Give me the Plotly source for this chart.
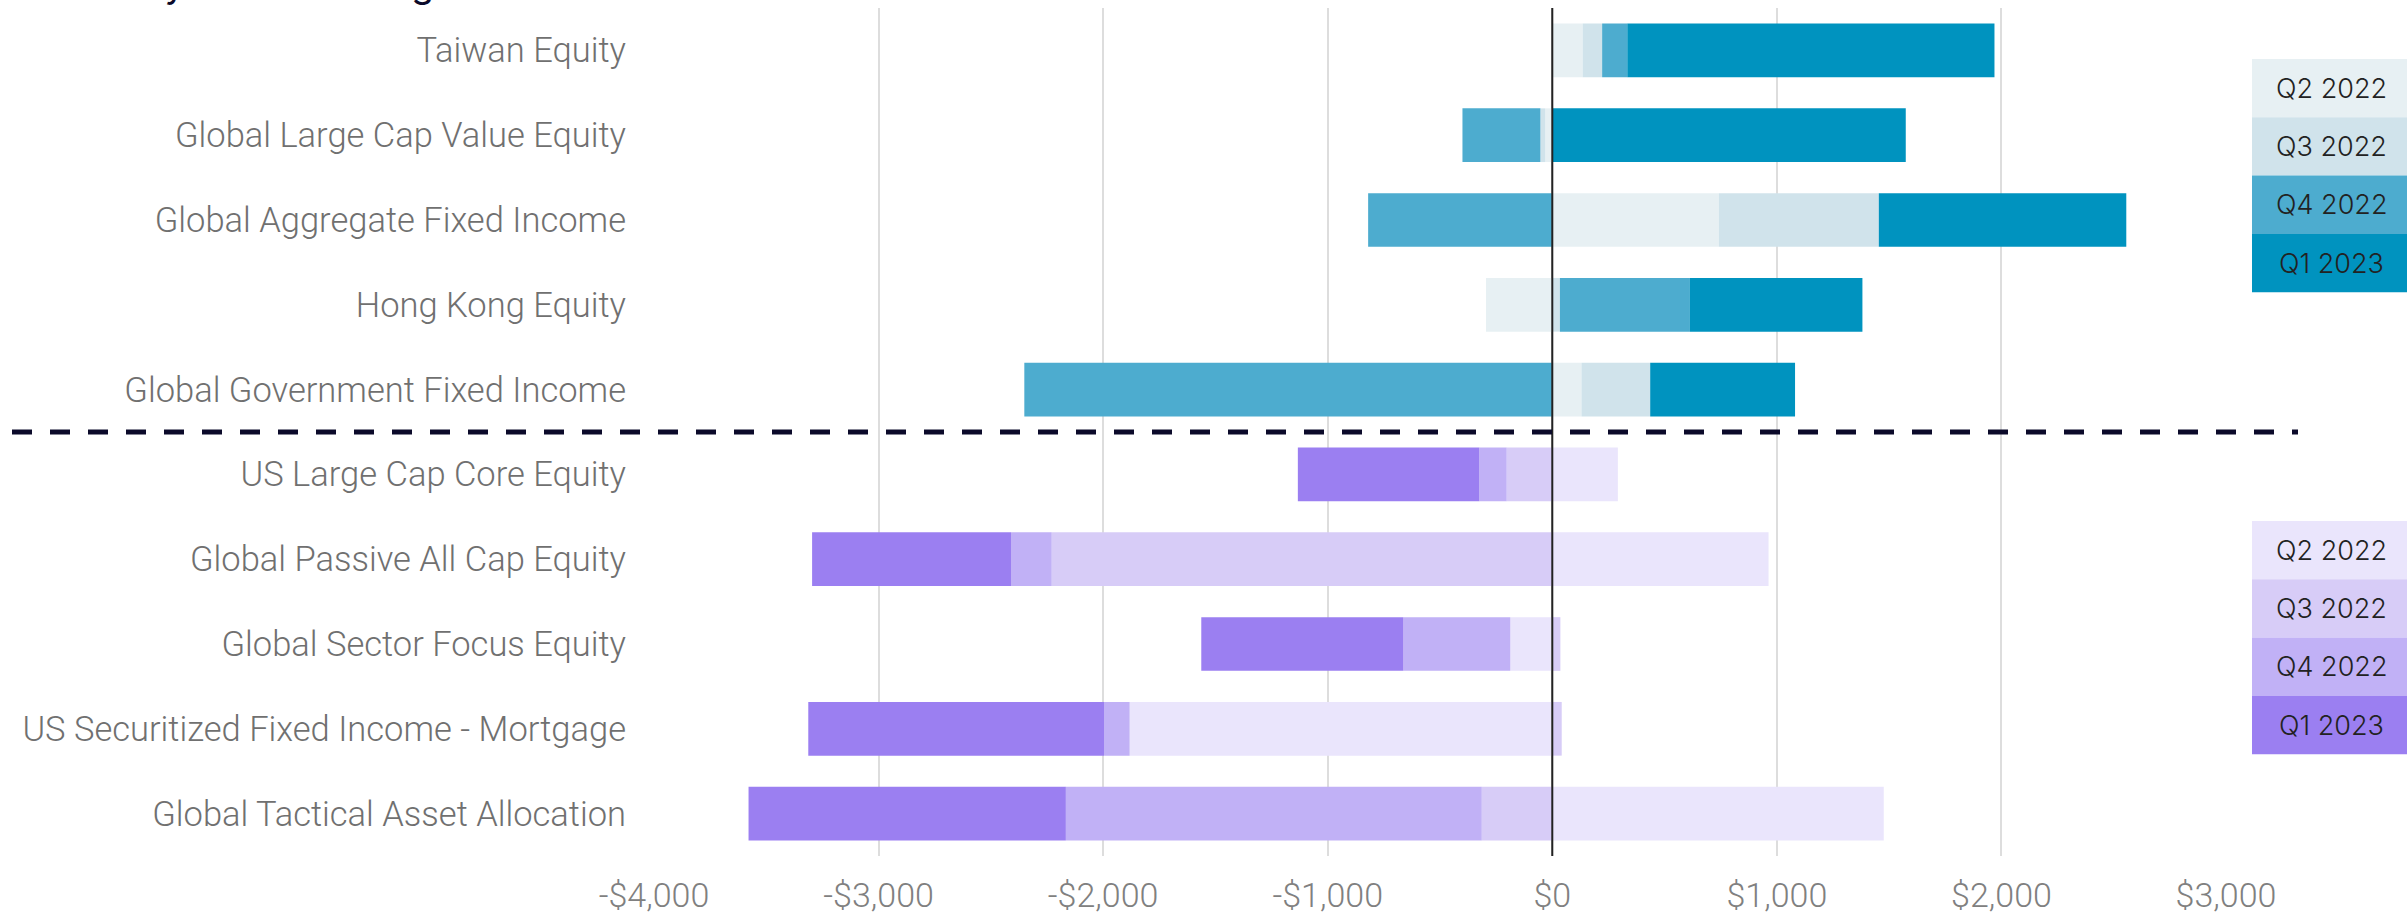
import plotly.graph_objects as go

# Fund categories, top group (blue) and bottom group (purple)
categories_top = [
    "Taiwan Equity",
    "Global Large Cap Value Equity",
    "Global Aggregate Fixed Income",
    "Hong Kong Equity",
    "Global Government Fixed Income",
]
categories_bottom = [
    "US Large Cap Core Equity",
    "Global Passive All Cap Equity",
    "Global Sector Focus Equity",
    "US Securitized Fixed Income - Mortgage",
    "Global Tactical Asset Allocation",
]
categories = categories_top + categories_bottom

quarters = ["Q2 2022", "Q3 2022", "Q4 2022", "Q1 2023"]

# Net flows per quarter (USD millions)
top_q2_2022 = [135, -31, 742, -295, 130]
top_q3_2022 = [87, -22, 712, 34, 306]
top_q4_2022 = [112, -347, -820, 579, -2351]
top_q1_2023 = [1635, 1574, 1102, 768, 645]

bottom_q2_2022 = [292, 963, -187, -1882, 1476]
bottom_q3_2022 = [-203, -2229, 36, 42, -314]
bottom_q4_2022 = [-122, -181, -476, -114, -1852]
bottom_q1_2023 = [-808, -886, -900, -1317, -1413]

top_series = [top_q2_2022, top_q3_2022, top_q4_2022, top_q1_2023]
bottom_series = [bottom_q2_2022, bottom_q3_2022, bottom_q4_2022, bottom_q1_2023]

blue_colors = ["#E7F0F3", "#D0E3EB", "#4DACCF", "#0093BF"]
purple_colors = ["#EAE5FC", "#D7CCF7", "#C1B1F6", "#9B7FF1"]

x_tickvals = [-4000, -3000, -2000, -1000, 0, 1000, 2000, 3000]
x_ticktext = ["-$4,000", "-$3,000", "-$2,000", "-$1,000", "$0", "$1,000", "$2,000", "$3,000"]

title_text = "Quarterly Flows Through Q1 2023"

LABEL_FONT = "Roboto"
LEGEND_FONT = "Inter"

fig = go.Figure()

for name, vals, col in zip(quarters, top_series, blue_colors):
    fig.add_trace(go.Bar(
        y=categories_top, x=vals, orientation="h", name=name,
        marker=dict(color=col, line=dict(width=0)), showlegend=False,
    ))
for name, vals, col in zip(quarters, bottom_series, purple_colors):
    fig.add_trace(go.Bar(
        y=categories_bottom, x=vals, orientation="h", name=name,
        marker=dict(color=col, line=dict(width=0)), showlegend=False,
    ))

W, H = 2407, 917
ML, MR, MT, MB = 654, 181, 8, 61
PW, PH = W - ML - MR, H - MT - MB


def px_x(px):
    return (px - ML) / PW


def px_y(py):
    return 1 - (py - MT) / PH


shapes = []
annotations = []

# zero reference line drawn over the bars
shapes.append(dict(type="line", xref="x", yref="paper", x0=0, x1=0, y0=0, y1=1,
                   line=dict(color="#222222", width=2), layer="above"))

# dashed divider between the two groups
shapes.append(dict(type="line", xref="paper", yref="y",
                   x0=px_x(12), x1=px_x(2298), y0=4.5, y1=4.5,
                   line=dict(color="#0B0A2A", width=5, dash="20px,18px"), layer="above"))


# colour-block legends for each group
def add_legend_block(top_px, colors):
    row_h = 58.3
    for i, (name, col) in enumerate(zip(quarters, colors)):
        y0 = top_px + i * row_h
        y1 = y0 + row_h
        shapes.append(dict(type="rect", xref="paper", yref="paper",
                           x0=px_x(2252), x1=px_x(2420), y0=px_y(y1), y1=px_y(y0),
                           fillcolor=col, line=dict(width=0), layer="above"))
        annotations.append(dict(xref="paper", yref="paper", x=px_x(2331), y=px_y((y0 + y1) / 2),
                                text=name, showarrow=False, xanchor="center", yanchor="middle",
                                font=dict(family=LEGEND_FONT, size=27, color="#222222", weight=300)))


add_legend_block(59, blue_colors)
add_legend_block(521, purple_colors)

annotations.append(dict(xref="paper", yref="paper", x=px_x(20), y=px_y(8.5),
                        text=title_text, showarrow=False, xanchor="left", yanchor="bottom",
                        font=dict(family=LEGEND_FONT, size=37, color="#0B0A2A")))

fig.update_layout(
    width=W, height=H,
    margin=dict(l=ML, r=MR, t=MT, b=MB, pad=0, autoexpand=False),
    barmode="relative",
    bargap=0.367,
    plot_bgcolor="white",
    paper_bgcolor="white",
    shapes=shapes,
    annotations=annotations,
    xaxis=dict(
        range=[-4000, 3000],
        automargin=False,
        tickvals=x_tickvals, ticktext=x_ticktext,
        showgrid=True, gridcolor="#DDDDDD", gridwidth=1.5,
        zeroline=False, showline=False, ticks="",
        ticklabelstandoff=16,
        tickfont=dict(family=LABEL_FONT, size=34, color="#808080", weight=300),
    ),
    yaxis=dict(
        range=[9.5, -0.5],
        automargin=False,
        categoryorder="array", categoryarray=categories,
        showgrid=False, zeroline=False, showline=False, ticks="",
        ticklabelstandoff=27,
        tickfont=dict(family=LABEL_FONT, size=34.5, color="#707070", weight=300),
    ),
)

fig.write_html("out.html")
